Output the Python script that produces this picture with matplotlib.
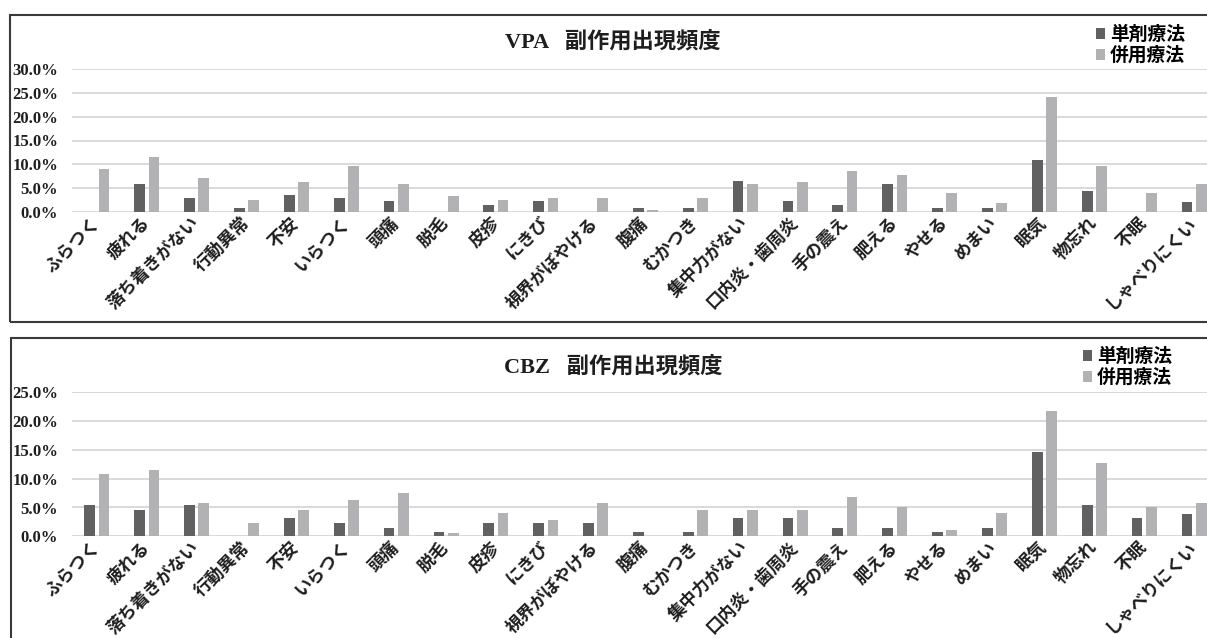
import matplotlib
matplotlib.use("Agg")
import numpy as np
import matplotlib.pyplot as plt
from matplotlib.patches import Rectangle, Patch
from matplotlib.ticker import PercentFormatter, MultipleLocator
from matplotlib.font_manager import FontProperties

# ---- data (percent of patients) ----
categories = [
    "ふらつく", "疲れる", "落ち着きがない", "行動異常", "不安", "いらつく",
    "頭痛", "脱毛", "皮疹", "にきび", "視界がぼやける", "腹痛", "むかつき",
    "集中力がない", "口内炎・歯周炎", "手の震え", "肥える", "やせる", "めまい",
    "眠気", "物忘れ", "不眠", "しゃべりにくい",
]

series_labels = ["単剤療法", "併用療法"]

vpa_mono = [0.0, 5.8, 2.9, 0.7, 3.6, 2.9, 2.2, 0.0, 1.4, 2.2, 0.0, 0.7,
            0.7, 6.5, 2.2, 1.4, 5.8, 0.7, 0.7, 10.9, 4.4, 0.0, 2.1]
vpa_comb = [9.1, 11.6, 7.2, 2.4, 6.2, 9.7, 5.8, 3.4, 2.4, 2.9, 2.9, 0.4,
            2.9, 5.8, 6.2, 8.6, 7.7, 3.9, 1.9, 24.1, 9.6, 3.9, 5.8]

cbz_mono = [5.4, 4.6, 5.4, 0.0, 3.1, 2.3, 1.5, 0.75, 2.3, 2.3, 2.3, 0.75,
            0.75, 3.1, 3.1, 1.5, 1.5, 0.75, 1.5, 14.6, 5.4, 3.1, 3.8]
cbz_comb = [10.9, 11.5, 5.7, 2.3, 4.6, 6.3, 7.5, 0.5, 4.0, 2.8, 5.7, 0.0,
            4.6, 4.6, 4.6, 6.9, 5.1, 1.1, 4.0, 21.8, 12.7, 5.1, 5.7]

vpa_title = "VPA   副作用出現頻度"
cbz_title = "CBZ   副作用出現頻度"

# ---- styling ----
W, H = 1207, 638
DARK = "#616161"
LIGHT = "#b2b2b4"
GRID = "#d9d9d9"
TEXT = "#1e1e1e"
CJK = "Noto Sans CJK JP"
SERIF = "Liberation Serif"


def fx(px):
    return px / W


def fy(py):
    return 1 - py / H


fig = plt.figure(figsize=(W / 100, H / 100), dpi=100)
fig.patch.set_facecolor("white")


def draw_panel(top_px, bottom_px, ymax, mono, comb, title, title_y,
               leg_x, leg_y, frame_top, frame_bottom, frame_left):
    ax = fig.add_axes([fx(72), fy(bottom_px), (1219 - 72) / W,
                       (bottom_px - top_px) / H])
    x = np.arange(len(categories))
    ax.bar(x - 0.143, mono, width=0.215, color=DARK, zorder=3)
    ax.bar(x + 0.143, comb, width=0.215, color=LIGHT, zorder=3)

    ax.set_xlim(-0.5, len(categories) - 0.5)
    ax.set_ylim(0, ymax)
    ax.yaxis.set_major_locator(MultipleLocator(5))
    ax.yaxis.set_major_formatter(PercentFormatter(xmax=100, decimals=1))
    ax.yaxis.grid(True, color=GRID, lw=1.4)
    ax.set_axisbelow(True)
    for s in ax.spines.values():
        s.set_visible(False)
    ax.tick_params(axis="both", length=0)
    ax.tick_params(axis="y", pad=10)

    for lab in ax.get_yticklabels():
        lab.set_fontfamily(SERIF)
        lab.set_fontweight("bold")
        lab.set_fontsize(12)
        lab.set_color(TEXT)

    ax.set_xticks(x)
    ax.set_xticklabels(categories, rotation=45, ha="right", va="center",
                       rotation_mode="anchor", fontsize=12.5,
                       fontweight="bold", family=CJK, color=TEXT)
    ax.tick_params(axis="x", pad=6)

    fig.text(fx(613), fy(title_y), title, ha="center", va="center",
             fontsize=16, fontweight="bold", color=TEXT,
             family=[SERIF, CJK])

    handles = [Patch(facecolor=DARK), Patch(facecolor=LIGHT)]
    fig.legend(handles, series_labels, loc="upper left",
               bbox_to_anchor=(fx(leg_x), fy(leg_y)), frameon=False,
               prop=FontProperties(family=CJK, weight="bold", size=13.5),
               handlelength=0.5, handleheight=0.5, handletextpad=0.25,
               labelspacing=0.1, borderpad=0, borderaxespad=0)

    frame = Rectangle((fx(frame_left), fy(frame_bottom)),
                      (1230 - frame_left) / W,
                      (frame_bottom - frame_top) / H,
                      transform=fig.transFigure, fill=False,
                      edgecolor="#3a3a3a", lw=1.5, clip_on=False)
    fig.add_artist(frame)
    return ax


draw_panel(69.3, 211.7, 30, vpa_mono, vpa_comb, vpa_title, 42,
           1096, 25, 14.5, 322, 9.5)
draw_panel(392.3, 536.3, 25, cbz_mono, cbz_comb, cbz_title, 367,
           1083, 347, 338, 660, 11)

fig.savefig("out.png", dpi=100, facecolor="white")
